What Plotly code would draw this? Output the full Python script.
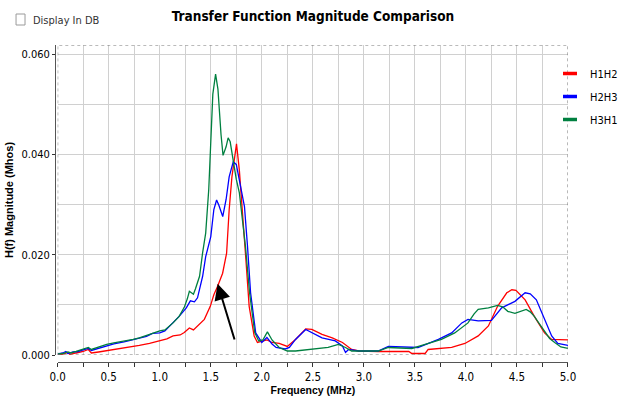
import plotly.graph_objects as go

# ---------------- data ----------------
f_h1h2 = [0.0, 0.05, 0.10, 0.12, 0.18, 0.25, 0.30, 0.33, 0.40, 0.50, 0.60, 0.70, 0.80, 0.90,
          1.00, 1.07, 1.13, 1.20, 1.24, 1.29, 1.33, 1.37, 1.437, 1.495, 1.53, 1.567, 1.616,
          1.655, 1.68, 1.707, 1.73, 1.752, 1.78, 1.81, 1.844, 1.876, 1.925, 1.957, 2.00, 2.05,
          2.10, 2.17, 2.25, 2.33, 2.43, 2.49, 2.59, 2.69, 2.79, 2.88, 2.95, 3.14, 3.44, 3.47,
          3.60, 3.63, 3.86, 3.99, 4.12, 4.22, 4.31, 4.40, 4.45, 4.49, 4.58, 4.67, 4.77, 4.84, 5.00]
h1h2 = [0.0001, 0.0002, 0.0005, 0.0001, 0.0004, 0.0007, 0.0011, 0.0004, 0.0006, 0.0009, 0.0012,
        0.0015, 0.0019, 0.0023, 0.0028, 0.0032, 0.0038, 0.0040, 0.0045, 0.0054, 0.0050, 0.0058,
        0.0071, 0.0097, 0.0120, 0.0137, 0.0163, 0.0203, 0.0289, 0.0355, 0.0395, 0.0421, 0.0368,
        0.0276, 0.0190, 0.0097, 0.0038, 0.0025, 0.0027, 0.0030, 0.0025, 0.0023, 0.0017, 0.0031,
        0.0052, 0.0051, 0.0041, 0.0034, 0.0025, 0.0011, 0.0008, 0.0007, 0.0007, 0.0003, 0.0003,
        0.0011, 0.0015, 0.0023, 0.0038, 0.0058, 0.0097, 0.0124, 0.0130, 0.0129, 0.0110, 0.0077,
        0.0044, 0.0031, 0.0030]

f_h2h3 = [0.0, 0.05, 0.08, 0.10, 0.15, 0.20, 0.25, 0.30, 0.33, 0.40, 0.48, 0.55, 0.65, 0.74,
          0.80, 0.87, 0.93, 1.00, 1.05, 1.13, 1.19, 1.26, 1.30, 1.34, 1.37, 1.42, 1.45, 1.50,
          1.53, 1.557, 1.58, 1.617, 1.65, 1.68, 1.72, 1.75, 1.795, 1.83, 1.86, 1.89, 1.94, 2.00,
          2.05, 2.10, 2.14, 2.23, 2.27, 2.33, 2.43, 2.49, 2.59, 2.72, 2.79, 2.82, 2.85, 2.95,
          3.14, 3.24, 3.41, 3.53, 3.73, 3.86, 3.96, 4.02, 4.12, 4.25, 4.35, 4.48, 4.58, 4.63,
          4.69, 4.77, 4.84, 4.90, 5.00]
h2h3 = [0.0002, 0.0004, 0.0007, 0.0003, 0.0006, 0.0007, 0.0010, 0.0013, 0.0009, 0.0013, 0.0019,
        0.0022, 0.0026, 0.0030, 0.0033, 0.0037, 0.0043, 0.0044, 0.0048, 0.0064, 0.0077, 0.0094,
        0.0108, 0.0106, 0.0114, 0.0157, 0.0196, 0.0236, 0.0290, 0.0309, 0.0298, 0.0276, 0.0310,
        0.0355, 0.0385, 0.0380, 0.0335, 0.0296, 0.0216, 0.0124, 0.0044, 0.0025, 0.0035, 0.0022,
        0.0015, 0.0012, 0.0015, 0.0031, 0.0051, 0.0044, 0.0034, 0.0028, 0.0018, 0.0005, 0.0011,
        0.0008, 0.0008, 0.0017, 0.0015, 0.0015, 0.0031, 0.0044, 0.0064, 0.0071, 0.0068, 0.0069,
        0.0094, 0.0107, 0.0124, 0.0122, 0.0110, 0.0071, 0.0038, 0.0023, 0.0019]

f_h3h1 = [0.0, 0.05, 0.10, 0.13, 0.18, 0.25, 0.30, 0.33, 0.40, 0.48, 0.55, 0.65, 0.74, 0.80,
          0.87, 0.93, 1.00, 1.05, 1.13, 1.19, 1.24, 1.27, 1.29, 1.31, 1.33, 1.35, 1.39, 1.42,
          1.45, 1.48, 1.50, 1.52, 1.547, 1.57, 1.60, 1.62, 1.65, 1.67, 1.69, 1.72, 1.75, 1.78,
          1.81, 1.84, 1.88, 1.93, 1.97, 2.01, 2.055, 2.10, 2.17, 2.25, 2.33, 2.49, 2.65, 2.75,
          2.82, 2.88, 3.14, 3.24, 3.47, 3.60, 3.76, 3.89, 4.02, 4.08, 4.12, 4.22, 4.31, 4.36,
          4.41, 4.48, 4.54, 4.59, 4.63, 4.67, 4.72, 4.77, 4.82, 4.87, 4.93, 5.00]
h3h1 = [0.0002, 0.0003, 0.0006, 0.0004, 0.0007, 0.0012, 0.0015, 0.0011, 0.0016, 0.0021, 0.0024,
        0.0027, 0.0031, 0.0034, 0.0039, 0.0044, 0.0048, 0.0050, 0.0064, 0.0077, 0.0095, 0.0112,
        0.0127, 0.0124, 0.0121, 0.0132, 0.0157, 0.0204, 0.0243, 0.0330, 0.0420, 0.0520, 0.0560,
        0.0530, 0.0440, 0.0398, 0.0415, 0.0433, 0.0425, 0.0385, 0.0350, 0.0323, 0.0270, 0.0216,
        0.0124, 0.0045, 0.0028, 0.0030, 0.0046, 0.0030, 0.0015, 0.0008, 0.0008, 0.0011, 0.0015,
        0.0021, 0.0015, 0.0008, 0.0008, 0.0015, 0.0013, 0.0021, 0.0031, 0.0044, 0.0064, 0.0082,
        0.0091, 0.0094, 0.0099, 0.0096, 0.0087, 0.0083, 0.0087, 0.0091, 0.0086, 0.0077, 0.0062,
        0.0048, 0.0033, 0.0025, 0.0016, 0.0013]

series_names = ["H1H2", "H2H3", "H3H1"]
series_colors = ["#ff0000", "#0000ff", "#008040"]

# arrow annotation (head, tail) in data units
arrow_head = (1.567, 0.0142)
arrow_tail = (1.737, 0.0028)

x_ticks = [0.0, 0.5, 1.0, 1.5, 2.0, 2.5, 3.0, 3.5, 4.0, 4.5, 5.0]
y_ticks = [0.000, 0.020, 0.040, 0.060]

# ---------------- figure ----------------
NARROW = "DejaVu Sans Condensed, Liberation Sans Narrow, Arial Narrow, sans-serif"
SANS = "Liberation Sans, Arial, sans-serif"

fig = go.Figure()
for fx, fy, name, col in zip([f_h1h2, f_h2h3, f_h3h1], [h1h2, h2h3, h3h1],
                             series_names, series_colors):
    fig.add_trace(go.Scatter(x=fx, y=fy, mode="lines", name=name, legendgroup=name,
                             showlegend=False, line=dict(color=col, width=1.3)))
# legend entries with short bar symbols
for name, col in zip(series_names, series_colors):
    fig.add_trace(go.Scatter(x=[None], y=[None], mode="markers", name=name, legendgroup=name,
                             marker=dict(symbol="line-ew-open", size=10, color=col,
                                         line=dict(color=col, width=3.5))))

W, H = 619, 400
L, R, T, B = 55, 50.5, 45, 38
pw, ph = W - L - R, H - T - B
xd0 = 2.7 / pw
yd0 = 7.0 / ph
YMAX = 0.0618

fig.update_layout(
    width=W, height=H,
    margin=dict(l=L, r=R, t=T, b=B, pad=0, autoexpand=False),
    paper_bgcolor="white", plot_bgcolor="white",
    title=dict(text="Transfer Function Magnitude Comparison", x=313 / W, xanchor="center",
               xref="container", y=1 - 16 / H, yref="container", yanchor="middle",
               font=dict(family=NARROW, size=13.5, color="#000000", weight="bold")),
    xaxis=dict(range=[0, 5], domain=[xd0, 1], anchor="free", position=0, automargin=False,
               tickmode="array", tickvals=x_ticks, ticktext=[f"{v:.1f}" for v in x_ticks],
               showgrid=True, gridcolor="#d0d0d0", gridwidth=1,
               minor=dict(dtick=0.25, showgrid=True, gridcolor="#d0d0d0", ticks="outside",
                          ticklen=4, tickcolor="#333333"),
               ticks="outside", ticklen=4, tickcolor="#333333",
               showline=True, linecolor="#555555", linewidth=1, zeroline=False,
               tickfont=dict(family=NARROW, size=11.5, color="#000000"),
               title=dict(text="Frequency (MHz)", standoff=3,
                          font=dict(family=SANS, size=10.5, color="#000000", weight="bold"))),
    yaxis=dict(range=[0, YMAX], domain=[yd0, 1], anchor="free", position=0, automargin=False,
               tickmode="array", tickvals=y_ticks, ticktext=[f"{v:.3f}" for v in y_ticks],
               showgrid=True, gridcolor="#d0d0d0", gridwidth=1,
               minor=dict(dtick=0.01, tick0=0, showgrid=True, gridcolor="#d0d0d0"),
               ticks="outside", ticklen=3, tickcolor="#333333",
               showline=True, linecolor="#555555", linewidth=1, zeroline=False,
               tickfont=dict(family=NARROW, size=11, color="#000000"),
               title=dict(text="H(f) Magnitude (Mhos)", standoff=4,
                          font=dict(family=SANS, size=11, color="#000000", weight="bold"))),
    legend=dict(xref="container", yref="container", x=550 / W, xanchor="left",
                y=1 - 59 / H, yanchor="top",
                bgcolor="rgba(0,0,0,0)", itemwidth=30, tracegroupgap=4,
                font=dict(family=NARROW, size=11, color="#000000")),
    showlegend=True,
)

# dotted plot border
fig.add_shape(type="rect", xref="x", yref="y", x0=0, x1=5, y0=0, y1=YMAX,
              line=dict(color="#777777", width=1, dash="dot"), layer="above")

# arrow
fig.add_annotation(x=arrow_head[0], y=arrow_head[1], ax=arrow_tail[0], ay=arrow_tail[1],
                   xref="x", yref="y", axref="x", ayref="y", text="", showarrow=True,
                   arrowhead=2, arrowsize=1.6, arrowwidth=2, arrowcolor="#000000")

# "Display In DB" checkbox
fig.add_shape(type="rect", xref="paper", yref="paper",
              x0=(16 - L) / pw, x1=(25 - L) / pw, y0=1 - (25 - T) / ph, y1=1 - (14 - T) / ph,
              line=dict(color="#9a9a9a", width=1), fillcolor="white")
fig.add_annotation(text="Display In DB", xref="paper", yref="paper",
                   x=(31 - L) / pw, y=1 - (20 - T) / ph, xanchor="left", yanchor="middle",
                   showarrow=False, font=dict(family=NARROW, size=11, color="#333333"))

fig.write_html("out.html", config={"displayModeBar": False},
               post_script="document.body.style.margin='0px';")
